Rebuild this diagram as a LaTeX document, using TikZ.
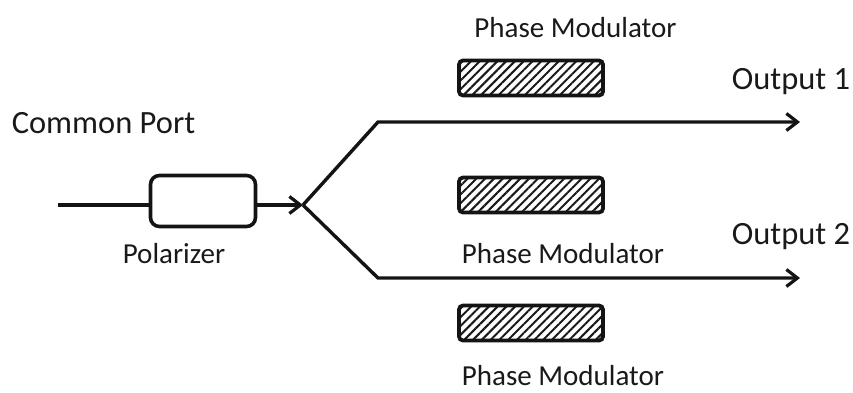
\documentclass[tikz,border=0pt]{standalone}
\usepackage{fontspec}
\setmainfont{Carlito}
\usetikzlibrary{patterns,patterns.meta,arrows.meta}
\tikzset{
  wire/.style={line width=3.4pt,black!92,-{Straight Barb[length=11pt,width=17pt,line width=3.2pt]}},
  plain/.style={line width=3.4pt,black!92},
  modbox/.style={draw=black!92,line width=3.8pt,rounded corners=4pt,minimum width=144pt,minimum height=35pt,inner sep=0pt,
     pattern={Lines[angle=45,distance=6.2pt,line width=2pt]},pattern color=black!90},
  polbox/.style={draw=black!92,line width=3.6pt,rounded corners=9pt,minimum width=105pt,minimum height=51pt,inner sep=0pt},
  small/.style={font=\fontsize{29}{32}\selectfont,inner sep=0pt,text=black!90},
  big/.style={font=\fontsize{32.5}{36}\selectfont,inner sep=0pt,text=black!90}
}
\begin{document}
\begin{tikzpicture}[x=1pt,y=-1pt]
\useasboundingbox (0,0) rectangle (853,392);
\node[modbox] (m1) at (531,78) {};
\node[modbox] (m2) at (531,195) {};
\node[modbox] (m3) at (531,323) {};
\node[polbox] (pol) at (203,201) {};
\coordinate (in) at (58,205);
\coordinate (split) at (303,205);
\coordinate (b1) at (378,122);
\coordinate (b2) at (378,278);
\coordinate (o1) at (800,122);
\coordinate (o2) at (800,278);
\draw[plain] (in) -- (pol.west |- in);
\draw[wire] (pol.east |- split) -- (split);
\draw[wire] (split) -- (b1) -- (o1);
\draw[wire] (split) -- (b2) -- (o2);
\node[small] (t1) at (575.5,28) {Phase Modulator};
\node[small] (t2) at (563,254) {Phase Modulator};
\node[small] (t3) at (563,376) {Phase Modulator};
\node[small] (t4) at (174,254) {Polarizer};
\node[big] (t5) at (103.5,123) {Common Port};
\node[big] (t6) at (791,82) {Output 1};
\node[big] (t7) at (791,237) {Output 2};
\end{tikzpicture}
\end{document}
